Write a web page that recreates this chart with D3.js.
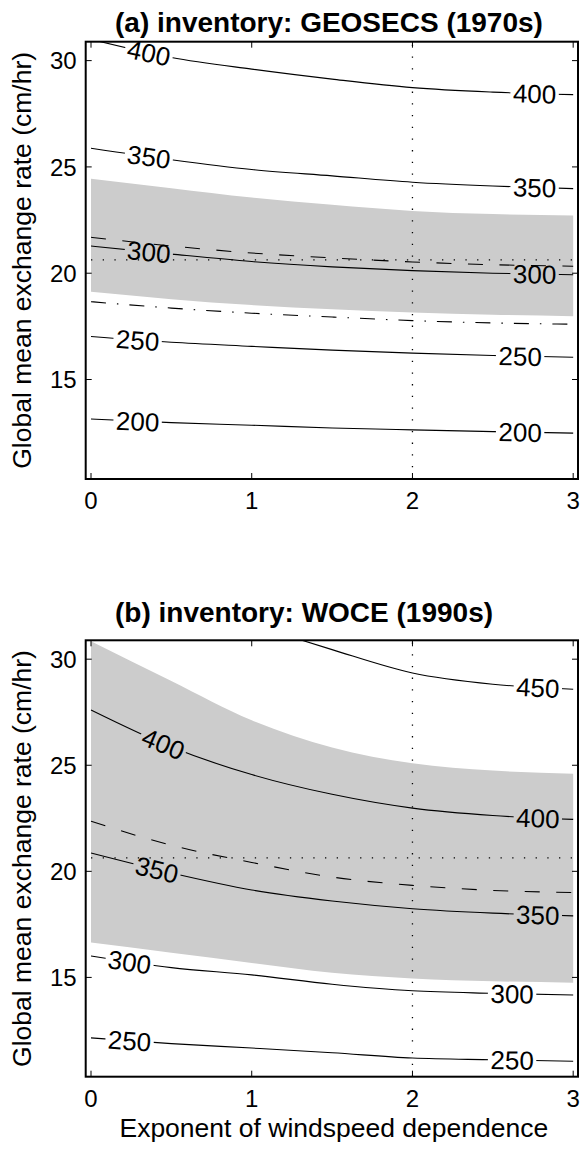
<!DOCTYPE html>
<html><head><meta charset="utf-8">
<script src="https://cdn.jsdelivr.net/npm/d3@7"></script>
<style>
body{margin:0;background:#fff}
svg{display:block}
text{font-family:"Liberation Sans",Arial,Helvetica,sans-serif;fill:#000}
</style>
</head><body>
<svg id="chart" width="581" height="1149"></svg>
<script>
// ---------- data ----------
const xGrid = [0, 0.5, 1, 1.5, 2, 2.5, 3];
const xTicks = [0, 1, 2, 3];
const yTicks = [15, 20, 25, 30];
const xLabel = "Exponent of windspeed dependence";
const yLabel = "Global mean exchange rate (cm/hr)";
const refX = 2;
const refY = 20.63;

// panel (a)
const titleA = "(a) inventory: GEOSECS (1970s)";
const levelsA = [400, 350, 300, 250, 200];
const c400a = [31.0, 30.15, 29.6, 29.13, 28.73, 28.52, 28.4];
const c350a = [25.88, 25.34, 24.88, 24.58, 24.28, 24.1, 23.98];
const c300a = [21.28, 20.9, 20.55, 20.3, 20.12, 20.0, 19.93];
const c250a = [17.02, 16.75, 16.56, 16.38, 16.24, 16.13, 16.05];
const c200a = [13.14, 12.97, 12.85, 12.72, 12.63, 12.55, 12.48];
const bandHiA = [24.44, 24.0, 23.56, 23.22, 22.93, 22.78, 22.72];
const bandLoA = [19.13, 18.78, 18.5, 18.3, 18.15, 18.05, 17.98];
const dashA = [21.69, 21.28, 20.95, 20.72, 20.53, 20.4, 20.33];
const dashDotA = [18.66, 18.36, 18.12, 17.94, 17.77, 17.66, 17.6];
const labelXLeftA = [0.36, 0.36, 0.36, 0.29, 0.29];
const labelXRightA = [2.76, 2.76, 2.76, 2.67, 2.67];

// panel (b)
const titleB = "(b) inventory: WOCE (1990s)";
const levelsB = [450, 400, 350, 300, 250];
const x450b = [1.25, 1.5, 2, 2.5, 3];
const c450b = [31.04, 30.45, 29.35, 28.82, 28.58];
const c400b = [27.61, 25.86, 24.56, 23.63, 22.98, 22.63, 22.45];
const c350b = [20.86, 19.92, 19.12, 18.6, 18.24, 18.03, 17.9];
const c300b = [16.01, 15.46, 15.12, 14.68, 14.37, 14.25, 14.17];
const c250b = [12.15, 11.88, 11.67, 11.45, 11.2, 11.12, 11.05];
const bandHiB = [30.85, 28.97, 27.12, 25.84, 25.09, 24.75, 24.6];
const bandLoB = [16.64, 16.16, 15.68, 15.22, 14.95, 14.82, 14.75];
const dashB = [22.36, 21.23, 20.42, 19.73, 19.34, 19.1, 19.0];
const labelXLeftB = [null, 0.45, 0.41, 0.24, 0.24];
const labelXRightB = [2.78, 2.78, 2.78, 2.62, 2.62];

// ---------- layout ----------
const W = 581, H = 1149;
const boxL = 85.7, boxR = 578;
const xDomain = [-0.033, 3.03];
const yDomain = [10.32, 30.89];
const FONT_TICK = 24, FONT_LAB = 26, FONT_AXIS = 26.5, FONT_TITLE = 28;

const svg = d3.select("#chart");

const panels = [
  {id: "a", top: 41.7, bottom: 479, title: titleA, titleY: 31.5, xLab: false,
   contours: [
     {lev: levelsA[0], xs: xGrid, ys: c400a, lx: [labelXLeftA[0], labelXRightA[0]]},
     {lev: levelsA[1], xs: xGrid, ys: c350a, lx: [labelXLeftA[1], labelXRightA[1]]},
     {lev: levelsA[2], xs: xGrid, ys: c300a, lx: [labelXLeftA[2], labelXRightA[2]]},
     {lev: levelsA[3], xs: xGrid, ys: c250a, lx: [labelXLeftA[3], labelXRightA[3]]},
     {lev: levelsA[4], xs: xGrid, ys: c200a, lx: [labelXLeftA[4], labelXRightA[4]]}
   ],
   bandHi: bandHiA, bandLo: bandLoA, dash: dashA, dashDot: dashDotA},
  {id: "b", top: 640.3, bottom: 1076.7, title: titleB, titleY: 622, xLab: true,
   contours: [
     {lev: levelsB[0], xs: x450b, ys: c450b, lx: [labelXRightB[0]]},
     {lev: levelsB[1], xs: xGrid, ys: c400b, lx: [labelXLeftB[1], labelXRightB[1]]},
     {lev: levelsB[2], xs: xGrid, ys: c350b, lx: [labelXLeftB[2], labelXRightB[2]]},
     {lev: levelsB[3], xs: xGrid, ys: c300b, lx: [labelXLeftB[3], labelXRightB[3]]},
     {lev: levelsB[4], xs: xGrid, ys: c250b, lx: [labelXLeftB[4], labelXRightB[4]]}
   ],
   bandHi: bandHiB, bandLo: bandLoB, dash: dashB, dashDot: null}
];

const defs = svg.append("defs");

panels.forEach(p => {
  const x = d3.scaleLinear().domain(xDomain).range([boxL, boxR]);
  const y = d3.scaleLinear().domain(yDomain).range([p.bottom, p.top]);
  const g = svg.append("g");

  defs.append("clipPath").attr("id", "clip" + p.id)
    .append("rect").attr("x", boxL).attr("y", p.top)
    .attr("width", boxR - boxL).attr("height", p.bottom - p.top);

  const plot = g.append("g").attr("clip-path", `url(#clip${p.id})`);

  // uncertainty band
  const area = d3.area().curve(d3.curveMonotoneX)
    .x((d, i) => x(xGrid[i])).y0((d, i) => y(p.bandLo[i])).y1(d => y(d));
  plot.append("path").datum(p.bandHi).attr("d", area).attr("fill", "#cccccc");

  // reference dotted lines
  plot.append("line").attr("x1", x(0)).attr("x2", x(3)).attr("y1", y(refY)).attr("y2", y(refY))
    .attr("stroke", "#000").attr("stroke-width", 1.3).attr("stroke-dasharray", "1.3,10.4");
  plot.append("line").attr("x1", x(refX)).attr("x2", x(refX)).attr("y1", p.bottom).attr("y2", p.top)
    .attr("stroke", "#000").attr("stroke-width", 1.3).attr("stroke-dasharray", "1.3,10.4");

  const line = (xs) => d3.line().curve(d3.curveMonotoneX).x((d, i) => x(xs[i])).y(d => y(d));

  plot.append("path").datum(p.dash).attr("d", line(xGrid)).attr("fill", "none")
    .attr("stroke", "#000").attr("stroke-width", 1.1).attr("stroke-dasharray", "15,16.5");
  if (p.dashDot) {
    plot.append("path").datum(p.dashDot).attr("d", line(xGrid)).attr("fill", "none")
      .attr("stroke", "#000").attr("stroke-width", 1.1).attr("stroke-dasharray", "15,11,1.5,11");
  }

  // contours with inline labels (line broken under labels via mask)
  const mask = defs.append("mask").attr("id", "mask" + p.id)
    .attr("maskUnits", "userSpaceOnUse").attr("x", 0).attr("y", 0).attr("width", W).attr("height", H);
  mask.append("rect").attr("x", 0).attr("y", 0).attr("width", W).attr("height", H).attr("fill", "#fff");

  const cg = plot.append("g").attr("mask", `url(#mask${p.id})`);
  const lg = g.append("g");

  p.contours.forEach(c => {
    const path = cg.append("path").datum(c.ys).attr("d", line(c.xs)).attr("fill", "none")
      .attr("stroke", "#000").attr("stroke-width", 1.1);
    const node = path.node();
    const L = node.getTotalLength();
    const N = 600;
    const pts = d3.range(N + 1).map(i => node.getPointAtLength(L * i / N));
    const yAt = px => {
      for (let i = 1; i < pts.length; i++) {
        if (pts[i].x >= px) {
          const a = pts[i - 1], b = pts[i];
          const t = (px - a.x) / ((b.x - a.x) || 1);
          return a.y + t * (b.y - a.y);
        }
      }
      return pts[pts.length - 1].y;
    };
    c.lx.forEach(lx => {
      if (lx == null) return;
      const px = x(lx), py = yAt(px);
      const ang = Math.atan2(yAt(px + 10) - yAt(px - 10), 20) * 180 / Math.PI;
      const t = lg.append("text")
        .attr("transform", `translate(${px},${py}) rotate(${ang})`)
        .attr("text-anchor", "middle").attr("dy", "0.36em")
        .attr("font-size", FONT_LAB).text(c.lev);
      const w = t.node().getComputedTextLength();
      mask.append("rect").attr("transform", `translate(${px},${py}) rotate(${ang})`)
        .attr("x", -w / 2 - 2.5).attr("y", -9).attr("width", w + 5).attr("height", 18).attr("fill", "#000");
    });
  });

  // axes box and ticks
  const ax = g.append("g");
  xTicks.forEach(t => {
    ax.append("line").attr("x1", x(t)).attr("x2", x(t)).attr("y1", p.bottom).attr("y2", p.bottom - 6)
      .attr("stroke", "#000").attr("stroke-width", 1);
    ax.append("line").attr("x1", x(t)).attr("x2", x(t)).attr("y1", p.top).attr("y2", p.top + 6)
      .attr("stroke", "#000").attr("stroke-width", 1);
    ax.append("text").attr("x", x(t)).attr("y", p.bottom + 30).attr("text-anchor", "middle")
      .attr("font-size", FONT_TICK).text(d3.format("d")(t));
  });
  yTicks.forEach(t => {
    ax.append("line").attr("x1", boxL).attr("x2", boxL + 6).attr("y1", y(t)).attr("y2", y(t))
      .attr("stroke", "#000").attr("stroke-width", 1);
    ax.append("line").attr("x1", boxR).attr("x2", boxR - 6).attr("y1", y(t)).attr("y2", y(t))
      .attr("stroke", "#000").attr("stroke-width", 1);
    ax.append("text").attr("x", boxL - 9).attr("y", y(t)).attr("dy", "0.36em").attr("text-anchor", "end")
      .attr("font-size", FONT_TICK).text(t);
  });
  ax.append("rect").attr("x", boxL).attr("y", p.top).attr("width", boxR - boxL).attr("height", p.bottom - p.top)
    .attr("fill", "none").attr("stroke", "#000").attr("stroke-width", 2);

  // titles and labels
  g.append("text").attr("x", 115).attr("y", p.titleY).attr("text-anchor", "start")
    .attr("font-size", FONT_TITLE).attr("font-weight", "bold").text(p.title);
  g.append("text").attr("transform", `translate(31,${(p.top + p.bottom) / 2}) rotate(-90)`)
    .attr("text-anchor", "middle").attr("font-size", FONT_AXIS).text(yLabel);
  if (p.xLab) {
    g.append("text").attr("x", (boxL + boxR) / 2 + 2).attr("y", 1137).attr("text-anchor", "middle")
      .attr("font-size", FONT_AXIS).text(xLabel);
  }
});
</script>
</body></html>
